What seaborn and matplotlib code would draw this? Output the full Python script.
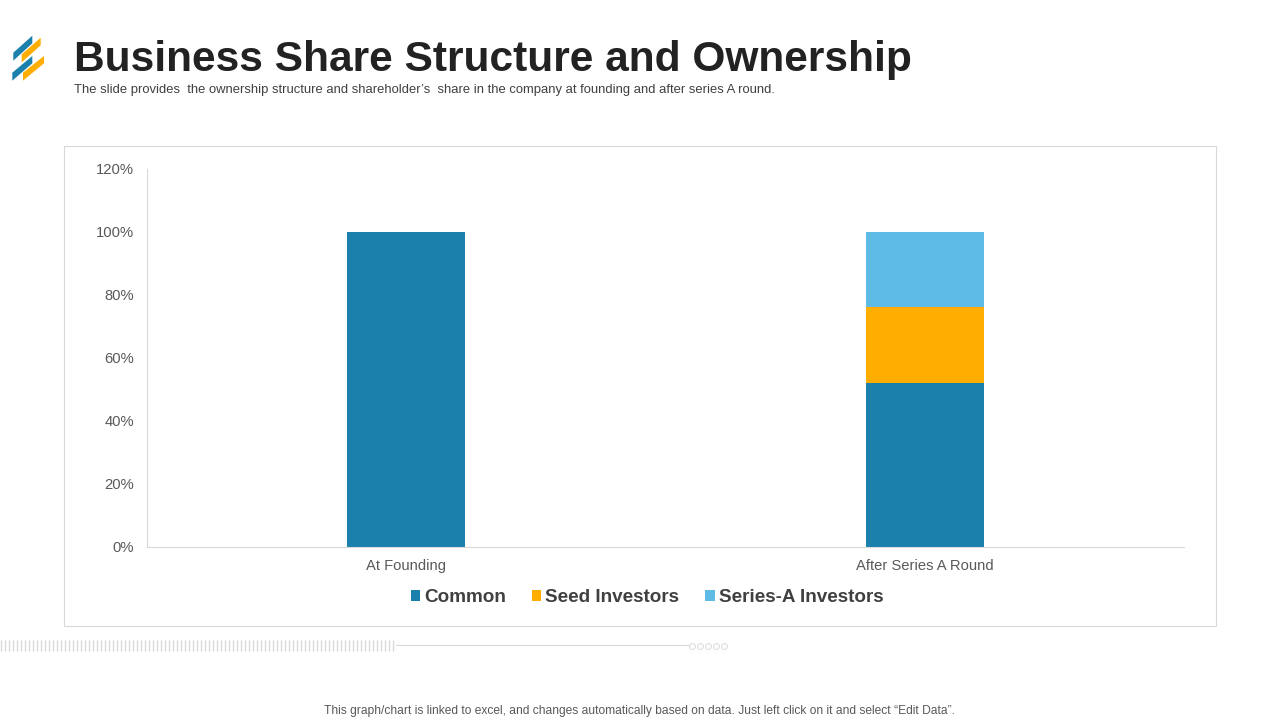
import numpy as np
import pandas as pd
from matplotlib import pyplot as plt
from matplotlib.patches import Polygon, Rectangle
from matplotlib.ticker import PercentFormatter
import seaborn as sns

# chart values
categories = ["At Founding", "After Series A Round"]
common = [100, 52]
seed_investors = [0, 24]
series_a_investors = [0, 24]
y_ticks = [0, 20, 40, 60, 80, 100, 120]

title = "Business Share Structure and Ownership"
subtitle = ("The slide provides  the ownership structure and shareholder\u2019s  share "
            "in the company at founding and after series A round.")
footnote = ("This graph/chart is linked to excel, and changes automatically based on data. "
            "Just left click on it and select \u201cEdit Data\u201d.")

c_blue = "#1C80AC"
c_orange = "#FFAE00"
c_light = "#5DBBE5"
c_text = "#404040"
c_line = "#D9D9D9"
W, H = 1280, 720

sns.set_theme(style="white")
plt.rcParams["font.family"] = ["Liberation Sans", "DejaVu Sans"]

fig = plt.figure(figsize=(W / 100, H / 100), dpi=100, facecolor="white")

# background layer in pixel coordinates for the slide decoration
bg = fig.add_axes([0, 0, 1, 1], zorder=0)
bg.set_xlim(0, W)
bg.set_ylim(H, 0)
bg.axis("off")

# logo
bg.add_patch(Polygon([(32.3, 35.7), (32.3, 43.3), (13.3, 60.7), (13.3, 52.7)], color=c_blue, lw=0))
bg.add_patch(Polygon([(40.7, 37.7), (40.7, 45.3), (21.7, 62.3), (21.7, 54.3)], color=c_orange, lw=0))
bg.add_patch(Polygon([(32.3, 56), (32.3, 63.3), (12.3, 80.7), (12.3, 72.7)], color=c_blue, lw=0))
bg.add_patch(Polygon([(44, 56), (44, 63.3), (23, 80.7), (23, 72.7)], color=c_orange, lw=0))

bg.text(74, 60.5, title, fontsize=30.6, fontweight="bold", color="#222222", va="center", ha="left")
bg.text(74, 90, subtitle, fontsize=9.39, color=c_text, va="center", ha="left")
bg.text(640, 711, footnote, fontsize=8.62, color="#595959", va="center", ha="center")

# chart frame
bg.add_patch(Rectangle((64, 146), 1152, 480, fc="white", ec=c_line, lw=0.8))

# ruler strip under the chart
bg.vlines(np.arange(1, 394, 4), 640, 651, color=c_line, lw=1)
bg.plot([396, 689], [645, 645], color=c_line, lw=0.8)
bg.plot(np.arange(691.5, 725, 8.2), [646] * 5, "o", ms=4.2, mfc="white", mec=c_line, mew=0.7)

# the chart itself
ax = fig.add_axes([147 / W, 1 - 547 / H, 1037 / W, 378.5 / H], zorder=1)
ax.patch.set_alpha(0)

df = pd.DataFrame({
    "category": categories,
    "common": common,
    "seed": seed_investors,
    "series_a": series_a_investors,
})
bar_w = 0.228
sns.barplot(data=df, x="category", y="common", color=c_blue, saturation=1,
            width=bar_w, linewidth=0, label="Common", ax=ax)
sns.barplot(data=df, x="category", y="seed", bottom=df["common"], color=c_orange,
            saturation=1, width=bar_w, linewidth=0, label="Seed Investors", ax=ax)
sns.barplot(data=df, x="category", y="series_a", bottom=df["common"] + df["seed"],
            color=c_light, saturation=1, width=bar_w, linewidth=0, label="Series-A Investors", ax=ax)

ax.set_xlim(-0.5, 1.5)
ax.set_ylim(0, 120)
ax.set_yticks(y_ticks)
ax.yaxis.set_major_formatter(PercentFormatter(decimals=0))
ax.set_xlabel("")
ax.set_ylabel("")
ax.tick_params(axis="both", length=0, labelsize=10.6, labelcolor="#595959")
ax.tick_params(axis="x", pad=8.3)
ax.tick_params(axis="y", pad=9.4)
sns.despine(ax=ax)
for side in ["left", "bottom"]:
    ax.spines[side].set_color(c_line)
    ax.spines[side].set_linewidth(0.8)

ax.legend(loc="center", bbox_to_anchor=(647 / W, 1 - 598 / H), bbox_transform=fig.transFigure,
          ncol=3, frameon=False, handlelength=0.5, handleheight=0.5, handletextpad=0.2,
          columnspacing=1.38, borderpad=0,
          prop={"size": 13.6, "weight": "bold"}, labelcolor=c_text)

fig.savefig("out.png", dpi=100)
